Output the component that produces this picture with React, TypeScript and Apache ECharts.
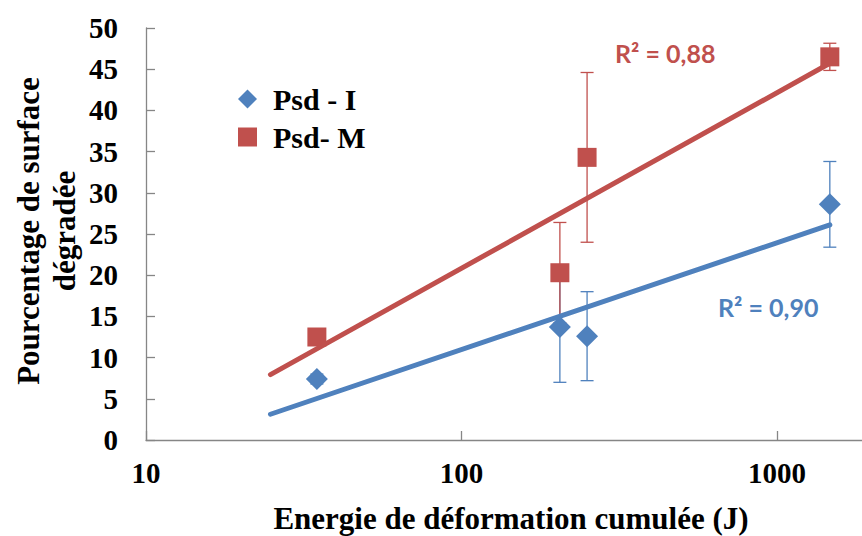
import React, { useEffect, useRef } from 'react';
import * as echarts from 'echarts';

// ---- data ----
const energy = [34.8, 205, 250, 1470]; // J (log axis)
const psdI = [7.4, 13.7, 12.6, 28.6];
const psdIErr = [0.6, 6.7, 5.4, 5.2];
const psdM = [12.5, 20.3, 34.3, 46.5];
const psdMErr = [0.6, 6.1, 10.3, 1.65];
const seriesNames = ['Psd - I', 'Psd- M'];
const trendFrom = 24.8; // backward forecast of the Excel log trendline
const trendTo = 1470;
const xMin = 10;
const xMax = 1859;
const yMin = 0;
const yMax = 50;
const yInterval = 5;

const BLUE = '#4F81BD';
const RED = '#C0504D';
const SERIF = '"Liberation Serif", "Times New Roman", serif';

function logFit(xs: number[], ys: number[]) {
  const lx = xs.map((v) => Math.log(v));
  const n = xs.length;
  const mx = lx.reduce((a, b) => a + b, 0) / n;
  const my = ys.reduce((a, b) => a + b, 0) / n;
  let sxy = 0, sxx = 0, syy = 0;
  for (let i = 0; i < n; i++) {
    sxy += (lx[i] - mx) * (ys[i] - my);
    sxx += (lx[i] - mx) ** 2;
    syy += (ys[i] - my) ** 2;
  }
  const a = sxy / sxx;
  const b = my - a * mx;
  return { a, b, r2: (sxy * sxy) / (sxx * syy) };
}

function errorSeries(name: string, ys: number[], errs: number[], color: string) {
  return {
    name,
    type: 'custom',
    z: 2,
    data: energy.map((x, i) => [x, ys[i] - errs[i], ys[i] + errs[i]]),
    encode: { x: 0, y: [1, 2] },
    renderItem: (_params: any, api: any) => {
      const x = api.value(0);
      const top = api.coord([x, api.value(2)]);
      const bot = api.coord([x, api.value(1)]);
      const hw = 6.5;
      const style = { stroke: color, lineWidth: 1.3 };
      return {
        type: 'group',
        children: [
          { type: 'line', shape: { x1: top[0], y1: top[1], x2: bot[0], y2: bot[1] }, style },
          { type: 'line', shape: { x1: top[0] - hw, y1: top[1], x2: top[0] + hw, y2: top[1] }, style },
          { type: 'line', shape: { x1: bot[0] - hw, y1: bot[1], x2: bot[0] + hw, y2: bot[1] }, style },
        ],
      };
    },
  };
}

export default function App() {
  const ref = useRef<HTMLDivElement>(null);
  useEffect(() => {
    if (!ref.current) return;
    const chart = echarts.init(ref.current, undefined, { renderer: 'svg' });
    const fitI = logFit(energy, psdI);
    const fitM = logFit(energy, psdM);
    const trend = (f: { a: number; b: number }) =>
      [trendFrom, trendTo].map((x) => [x, f.a * Math.log(x) + f.b]);
    const fmt = (r: number) => 'R² = ' + r.toFixed(2).replace('.', ',');

    chart.setOption({
      animation: false,
      backgroundColor: '#fff',
      grid: { left: 146, right: 0, top: 28, bottom: 96 },
      xAxis: {
        type: 'log',
        logBase: 10,
        min: xMin,
        max: xMax,
        axisLine: { lineStyle: { color: '#868686', width: 1.3 } },
        axisTick: { inside: true, length: 9, lineStyle: { color: '#868686', width: 1.3 } },
        minorTick: { show: false },
        splitLine: { show: false },
        axisLabel: {
          margin: 18,
          fontFamily: SERIF,
          fontWeight: 'bold',
          fontSize: 29,
          color: '#000',
          showMaxLabel: false,
          formatter: (v: number) => {
            const l = Math.log10(v);
            return Math.abs(l - Math.round(l)) < 1e-6 ? String(Math.round(v)) : '';
          },
        },
      },
      yAxis: {
        type: 'value',
        min: yMin,
        max: yMax,
        interval: yInterval,
        axisLine: { show: true, lineStyle: { color: '#868686', width: 1.3 } },
        axisTick: { show: true, inside: true, length: 9, lineStyle: { color: '#868686', width: 1.3 } },
        splitLine: { show: false },
        axisLabel: {
          margin: 28,
          fontFamily: SERIF,
          fontWeight: 'bold',
          fontSize: 29,
          color: '#000',
        },
      },
      legend: {
        data: [
          { name: seriesNames[0], icon: 'diamond' },
          { name: seriesNames[1], icon: 'rect' },
        ],
        orient: 'vertical',
        left: 233,
        top: 79,
        itemWidth: 19,
        itemHeight: 19,
        itemGap: 8,
        textStyle: {
          fontFamily: SERIF,
          fontWeight: 'bold',
          fontSize: 30,
          lineHeight: 28,
          color: '#000',
          padding: [0, 0, 0, 11],
        },
      },
      graphic: [
        {
          type: 'text',
          x: 46,
          y: 231,
          rotation: Math.PI / 2,
          style: {
            text: 'Pourcentage de surface\ndégradée',
            fontFamily: SERIF,
            fontWeight: 'bold',
            fontSize: 31,
            lineHeight: 36,
            align: 'center',
            verticalAlign: 'middle',
            fill: '#000',
          },
        },
        {
          type: 'text',
          x: 511,
          y: 518,
          style: {
            text: 'Energie de déformation cumulée (J)',
            fontFamily: SERIF,
            fontWeight: 'bold',
            fontSize: 31,
            align: 'center',
            verticalAlign: 'middle',
            fill: '#000',
          },
        },
        {
          type: 'text',
          x: 615,
          y: 53,
          style: {
            text: fmt(fitM.r2),
            fontFamily: 'Lato',
            fontWeight: 'bold',
            fontSize: 25,
            verticalAlign: 'middle',
            fill: RED,
          },
        },
        {
          type: 'text',
          x: 718,
          y: 307,
          style: {
            text: fmt(fitI.r2),
            fontFamily: 'Lato',
            fontWeight: 'bold',
            fontSize: 25,
            verticalAlign: 'middle',
            fill: BLUE,
          },
        },
      ],
      series: [
        errorSeries('errI', psdI, psdIErr, BLUE),
        errorSeries('errM', psdM, psdMErr, RED),
        {
          name: seriesNames[0],
          type: 'scatter',
          z: 3,
          symbol: 'diamond',
          symbolSize: 22,
          itemStyle: { color: BLUE, opacity: 1 },
          data: energy.map((x, i) => [x, psdI[i]]),
        },
        {
          name: seriesNames[1],
          type: 'scatter',
          z: 3,
          symbol: 'rect',
          symbolSize: 19,
          itemStyle: { color: RED, opacity: 1 },
          data: energy.map((x, i) => [x, psdM[i]]),
        },
        {
          name: 'trendI',
          type: 'line',
          z: 4,
          showSymbol: false,
          lineStyle: { color: BLUE, width: 5, cap: 'round' },
          itemStyle: { color: BLUE },
          data: trend(fitI),
        },
        {
          name: 'trendM',
          type: 'line',
          z: 4,
          showSymbol: false,
          lineStyle: { color: RED, width: 5, cap: 'round' },
          itemStyle: { color: RED },
          data: trend(fitM),
        },
      ],
    });
    return () => chart.dispose();
  }, []);
  return (
    <div
      ref={ref}
      style={{ position: 'absolute', left: 0, top: 0, width: 862, height: 536 }}
    />
  );
}
